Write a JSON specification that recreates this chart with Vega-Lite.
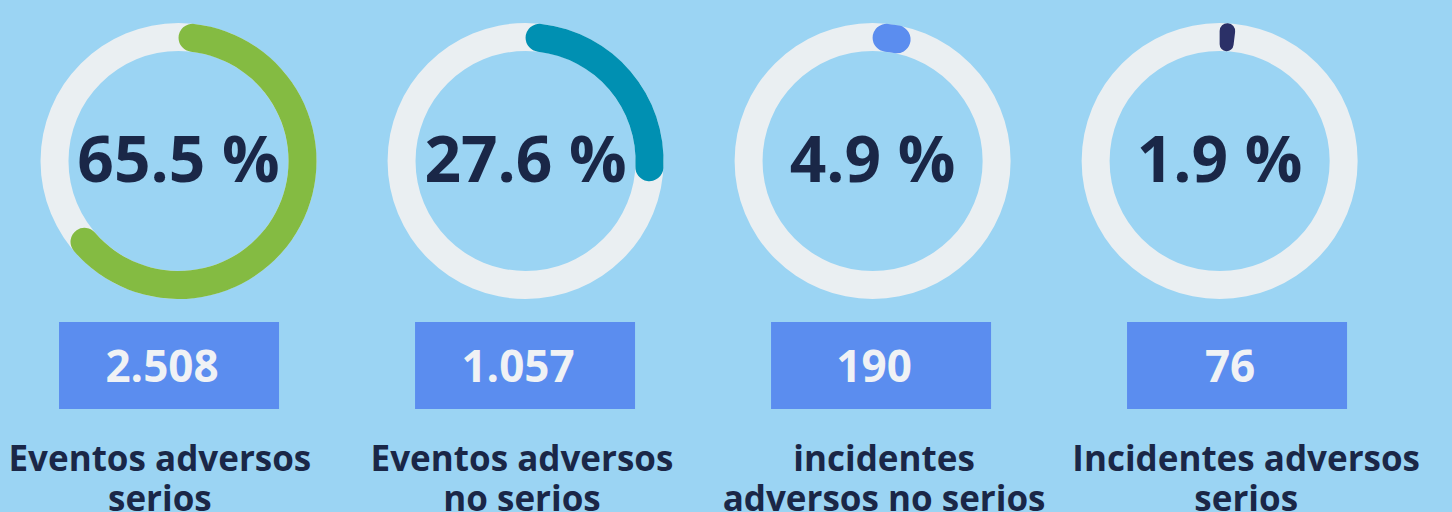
{
  "$schema": "https://vega.github.io/schema/vega-lite/v6.json",
  "background": "#9BD4F3",
  "padding": 0,
  "spacing": 0,
  "data": {
    "values": [
      {"cat": "Eventos adversos serios", "pct": 65.5, "pctLabel": "65.5 %", "count": "2.508", "label": ["Eventos adversos", "serios"]},
      {"cat": "Eventos adversos no serios", "pct": 27.6, "pctLabel": "27.6 %", "count": "1.057", "label": ["Eventos adversos", "no serios"]},
      {"cat": "incidentes adversos no serios", "pct": 4.9, "pctLabel": "4.9 %", "count": "190", "label": ["incidentes", "adversos no serios"]},
      {"cat": "Incidentes adversos serios", "pct": 1.9, "pctLabel": "1.9 %", "count": "76", "label": ["Incidentes adversos", "serios"]}
    ]
  },
  "vconcat": [
    {
      "width": 1452,
      "height": 322,
      "layer": [
        {
          "mark": {"type": "arc", "radius": 138, "radius2": 110, "theta": 0, "theta2": 6.2832, "color": "#EAEFF2"},
          "encoding": {
            "x": {"field": "cat", "type": "nominal", "sort": null, "axis": null, "scale": {"type": "band", "paddingInner": 0.37, "paddingOuter": 0.277, "align": 0.36}}
          }
        },
        {
          "mark": {"type": "arc", "radius": 138, "radius2": 110, "cornerRadius": 14},
          "encoding": {
            "x": {"field": "cat", "type": "nominal", "sort": null, "axis": null, "scale": {"type": "band", "paddingInner": 0.37, "paddingOuter": 0.277, "align": 0.36}},
            "theta": {"field": "pct", "type": "quantitative", "stack": null, "scale": {"domain": [0, 100], "range": [0, 6.2832]}},
            "theta2": {"datum": 0},
            "color": {"field": "cat", "type": "nominal", "legend": null, "scale": {"domain": ["Eventos adversos serios", "Eventos adversos no serios", "incidentes adversos no serios", "Incidentes adversos serios"], "range": ["#84BB42", "#0090B2", "#5B8DEF", "#2B3067"]}}
          }
        },
        {
          "mark": {"type": "text", "font": "Open Sans", "fontWeight": "bold", "fontSize": 64, "color": "#1A2747", "baseline": "middle", "align": "center", "dy": 2},
          "encoding": {
            "x": {"field": "cat", "type": "nominal", "sort": null, "axis": null, "scale": {"type": "band", "paddingInner": 0.37, "paddingOuter": 0.277, "align": 0.36}},
            "text": {"field": "pctLabel"}
          }
        }
      ]
    },
    {
      "width": 1452,
      "height": 87,
      "layer": [
        {
          "mark": {"type": "bar", "color": "#5B8DEF"},
          "encoding": {
            "x": {"field": "cat", "type": "nominal", "sort": null, "axis": null, "scale": {"type": "band", "paddingInner": 0.382, "paddingOuter": 0.2303, "align": 0.36}}
          }
        },
        {
          "mark": {"type": "text", "font": "Open Sans", "fontWeight": "bold", "fontSize": 44, "color": "#F0F2F5", "baseline": "middle", "align": "center", "dx": -7, "dy": 3},
          "encoding": {
            "x": {"field": "cat", "type": "nominal", "sort": null, "axis": null, "scale": {"type": "band", "paddingInner": 0.382, "paddingOuter": 0.2303, "align": 0.36}},
            "text": {"field": "count"}
          }
        }
      ]
    },
    {
      "width": 1452,
      "height": 103,
      "mark": {"type": "text", "font": "Open Sans", "fontWeight": "bold", "fontSize": 35, "lineHeight": 40, "color": "#1A2747", "baseline": "middle", "align": "center", "dy": -1},
      "encoding": {
        "x": {"field": "cat", "type": "nominal", "sort": null, "axis": null, "scale": {"type": "band", "paddingInner": 0.37, "paddingOuter": 0.19, "align": 0.333}},
        "text": {"field": "label"}
      }
    }
  ],
  "config": {"view": {"stroke": null}, "concat": {"spacing": 0}}
}
